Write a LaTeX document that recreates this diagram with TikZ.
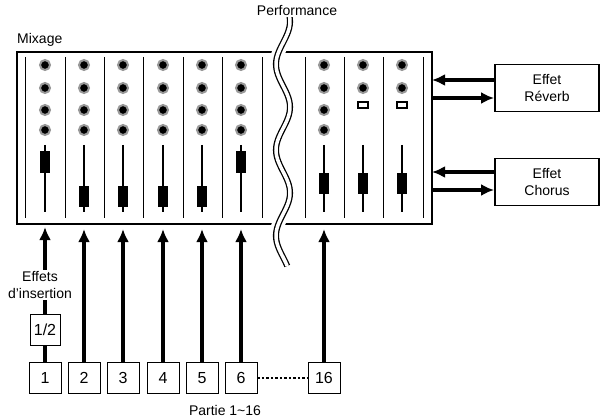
\documentclass[tikz,border=0pt]{standalone}
\usepackage{fontspec}
\setmainfont{Liberation Sans}
\usetikzlibrary{arrows.meta,positioning}
\tikzset{
  box/.style={draw, line width=0.9pt, fill=white, minimum width=32pt, minimum height=31pt, inner sep=0pt, font=\fontsize{16}{18}\selectfont},
  fxbox/.style={draw, line width=1.8pt, minimum width=104pt, minimum height=47pt, align=center, inner sep=0pt, font=\fontsize{14}{17}\selectfont},
  bus/.style={line width=3.8pt, -{Latex[length=13pt,width=12pt]}},
  knob/.style={draw=gray!80, line width=2pt, fill=black, circle, minimum size=10pt, inner sep=0pt},
  fader/.style={fill=black, minimum width=10pt, minimum height=21pt, inner sep=0pt}
}
\begin{document}
\begin{tikzpicture}[x=1pt,y=-1pt,font=\fontsize{14}{16}\selectfont]
\useasboundingbox (0,0) rectangle (606,420);
% mixer
\draw[line width=2.6pt] (17,52) rectangle (432,224);
\foreach \x in {25,65,104,143,183,222,262,305,344,383,423}
  \draw[line width=0.9pt] (\x,57) -- (\x,218);
\foreach \x/\y in {45/162,84/196,123/196,163/196,202/196,241/162} {
  \foreach \k in {65,88,110,130} \node[knob] at (\x,\k) {};
  \draw[line width=2pt] (\x,145) -- (\x,212);
  \node[fader] at (\x,\y) {};
}
\foreach \k in {65,88,110,130} \node[knob] at (324,\k) {};
\foreach \x in {363,402} {
  \foreach \k in {65,88} \node[knob] at (\x,\k) {};
  \draw[line width=2pt] (\x-5,102) rectangle (\x+5,108);
}
\foreach \x in {324,363,402} {
  \draw[line width=2pt] (\x,145) -- (\x,212);
  \node[fader] at (\x,183) {};
}
\node[anchor=south west, inner sep=0pt] (mix) at (17,47) {Mixage};
% break
\draw[white, line width=13pt] plot[domain=8:266, samples=90] ({283+7*sin(\x*4.2)}, \x);
\draw[double, double distance=3.5pt, line width=1.3pt] plot[domain=8:266, samples=90] ({283+7*sin(\x*4.2)}, \x);
\node[fill=white, inner sep=1pt] (perf) at (297,11) {Performance};
% effects
\node[fxbox] (rev) at (547,88) {Effet\\Réverb};
\node[fxbox] (cho) at (547,182) {Effet\\Chorus};
\coordinate (r1) at (432,80); \coordinate (r2) at (432,98);
\coordinate (c1) at (432,172); \coordinate (c2) at (432,190);
\draw[bus] (rev.west |- r1) -- (r1);
\draw[bus] (r2) -- (rev.west |- r2);
\draw[bus] (cho.west |- c1) -- (c1);
\draw[bus] (c2) -- (cho.west |- c2);
% parts
\node[box] (p1) at (45,378) {1};
\node[box] (p2) at (84,378) {2};
\node[box] (p3) at (123,378) {3};
\node[box] (p4) at (163,378) {4};
\node[box] (p5) at (202,378) {5};
\node[box] (p6) at (241,378) {6};
\node[box] (p16) at (324,378) {16};
\node[box, minimum width=30pt] (ins) at (45,330) {1/2};
\foreach \n in {2,3,4,5,6,16}
  \draw[bus] (p\n.north) -- ++(0,-133);
\draw[line width=3.8pt] (p1.north) -- (ins.south);
\draw[bus] (ins.north) -- ++(0,-87);
\node[fill=white, align=center, inner sep=1pt, font=\fontsize{14}{17}\selectfont] (lab) at (40,285) {Effets\\d'insertion};
\draw[line width=2.5pt, dotted] (p6.east) -- (p16.west);
\node (part) at (225,410) {Partie 1\textasciitilde16};
\end{tikzpicture}
\end{document}
